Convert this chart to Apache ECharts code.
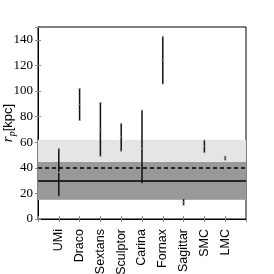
<!DOCTYPE html>
<html><head><meta charset="utf-8">
<script src="https://cdn.jsdelivr.net/npm/echarts@6/dist/echarts.min.js"></script>
<style>html,body{margin:0;padding:0;background:#fff}#c{width:274px;height:274px}</style>
</head><body><div id="c"></div>
<script>
var categories = ['UMi','Draco','Sextans','Sculptor','Carina','Fornax','Sagittar','SMC','LMC'];
var lowVals    = [17.7, 77, 49, 53, 27.6, 105.5, 10.8, 51.8, 46];
var centerVals = [36.5, 89.6, 70, 64, 55, 124, 13, 57, 47.5];
var highVals   = [55, 102, 91, 74.7, 85, 142.5, 15.8, 61.5, 49];
var yTicks = [0,20,40,60,80,100,120,140];
var lightBand = [15, 62];
var darkBand = [15, 44.5];
var dashedLevel = 40;
var solidLevel = 30;

var barData = categories.map(function(c,i){ return [i+1, lowVals[i], centerVals[i], highVals[i]]; });

var tickStyle = {show:true, inside:true, length:3, lineStyle:{color:'#888'}};
var chart = echarts.init(document.getElementById('c'), null, {renderer:'canvas'});
chart.setOption({
  animation:false,
  backgroundColor:'#fff',
  grid:{left:38, right:28, top:27, bottom:55, containLabel:false, outerBoundsMode:'none',
        show:true, borderColor:'#000', borderWidth:1, backgroundColor:'transparent'},
  xAxis:[{
    type:'value', min:0, max:10, interval:1,
    axisLine:{show:true, onZero:false, lineStyle:{color:'#000', width:1}},
    axisTick:tickStyle,
    splitLine:{show:false},
    axisLabel:{rotate:90, margin:10, fontFamily:'Liberation Sans', fontSize:12.5, color:'#000',
      formatter:function(v){ var i=Math.round(v)-1; return (i>=0 && i<categories.length)?categories[i]:''; }}
  },{
    type:'value', min:0, max:10, interval:1, position:'top',
    axisLine:{show:true, lineStyle:{color:'#000', width:1}},
    axisTick:tickStyle,
    axisLabel:{show:false}, splitLine:{show:false}
  }],
  yAxis:[{
    type:'value', min:0, max:150, interval:20,
    axisLine:{show:true, onZero:false, lineStyle:{color:'#000', width:1}},
    axisTick:tickStyle,
    splitLine:{show:false},
    axisLabel:{margin:5, fontFamily:'Liberation Serif', fontSize:13, color:'#000',
      formatter:function(v){ return yTicks.indexOf(v)>=0 ? String(v) : ''; }},
    name:'{r|r}{p|p}{k|[kpc]}', nameLocation:'middle', nameGap:21, nameRotate:90, nameMoveOverlap:false,
    nameTextStyle:{rich:{
      r:{fontFamily:'Liberation Serif', fontStyle:'italic', fontSize:15, color:'#000'},
      p:{fontFamily:'Liberation Serif', fontStyle:'italic', fontSize:10, color:'#000', verticalAlign:'bottom', padding:[7,0,0,0]},
      k:{fontFamily:'Liberation Sans', fontSize:13, color:'#000'}
    }}
  },{
    type:'value', min:0, max:150, interval:20, position:'right',
    axisLine:{show:true, lineStyle:{color:'#000', width:1}},
    axisTick:tickStyle,
    axisLabel:{show:false}, splitLine:{show:false}
  }],
  series:[{
    type:'line', data:[], silent:true,
    markArea:{silent:true, data:[
      [{yAxis:lightBand[0], itemStyle:{color:'#e5e5e5'}},{yAxis:lightBand[1]}],
      [{yAxis:darkBand[0], itemStyle:{color:'#999999'}},{yAxis:darkBand[1]}]
    ]},
    markLine:{silent:true, symbol:'none', label:{show:false}, data:[
      {yAxis:dashedLevel, lineStyle:{color:'#000', width:1.5, type:[4,3]}},
      {yAxis:solidLevel, lineStyle:{color:'#000', width:1.5, type:'solid'}}
    ]}
  },{
    type:'line', xAxisIndex:1, yAxisIndex:1, data:[], silent:true
  },{
    type:'custom', data:barData, z:5,
    renderItem:function(params, api){
      var x=api.value(0);
      var lo=api.coord([x, api.value(1)]);
      var ce=api.coord([x, api.value(2)]);
      var hi=api.coord([x, api.value(3)]);
      var st={stroke:'#111', lineWidth:1.5};
      var cap={stroke:'#999', lineWidth:1};
      return {type:'group', children:[
        {type:'line', shape:{x1:lo[0],y1:lo[1],x2:hi[0],y2:hi[1]}, style:st},
        {type:'line', shape:{x1:lo[0]-1,y1:lo[1],x2:lo[0]+1,y2:lo[1]}, style:cap},
        {type:'line', shape:{x1:hi[0]-1,y1:hi[1],x2:hi[0]+1,y2:hi[1]}, style:cap},
        {type:'line', shape:{x1:ce[0]-1.5,y1:ce[1],x2:ce[0]+1.5,y2:ce[1]}, style:cap}
      ]};
    }
  }]
});
</script></body></html>
